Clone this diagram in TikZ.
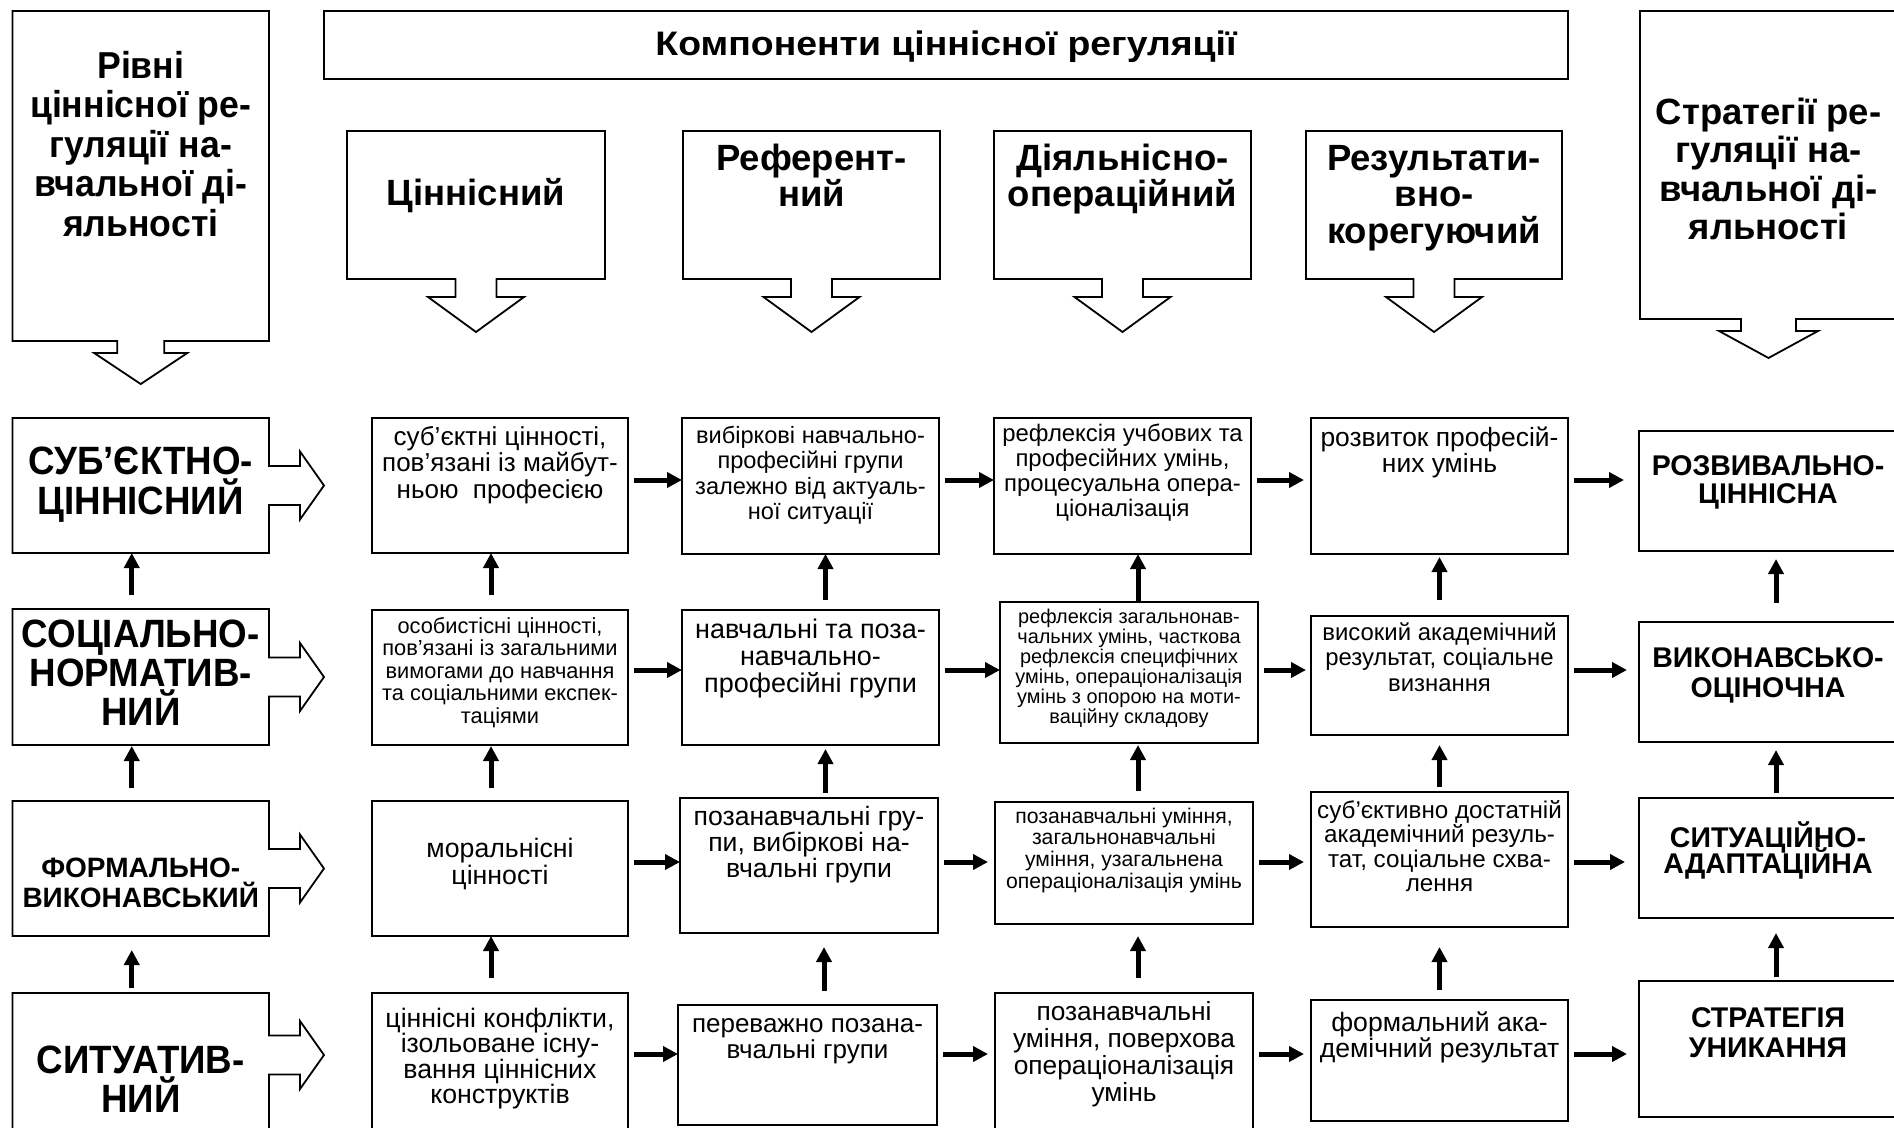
\documentclass[tikz,border=0pt]{standalone}
\usepackage{fontspec}
\setmainfont{Liberation Sans}
\newfontfamily\narrowf[FakeStretch=0.93]{Liberation Sans}
\newfontfamily\semif[FakeStretch=0.95]{Liberation Sans}
\newfontfamily\widef[FakeStretch=1.1]{Liberation Sans}
\usetikzlibrary{arrows.meta,calc}
\newcommand\fsz[2]{\fontsize{#1pt}{#2pt}\selectfont}
\newcommand\lline[1]{\makebox[0pt]{#1}\par}
\newcommand\btext[5]{\parbox[t][#2pt][t]{#1pt}{\lineskiplimit=-100pt\parskip=0pt\parindent=0pt\centering#3\rule{0pt}{#4pt}#5}}
\tikzset{
  boxst/.style={draw, line width=2pt, inner sep=0pt, outer sep=0pt},
  nbx/.style={inner sep=0pt, outer sep=0pt},
  outl/.style={line width=1.8pt, line join=miter},
  flow/.style={line width=5pt, -{Triangle[length=15pt,width=15pt]}},
}
% right-pointing block arrow attached to a box: node, centre offset from top
\newcommand\rarrow[2]{%
  \draw[outl] (#1.north west) -- (#1.north east) -- ($(#1.north east)+(0,#2-19.5)$) -- ++(31,0) -- ++(0,-14.5)
    -- ($(#1.north east)+(55,#2)$) -- ($(#1.north east)+(31,#2+34)$) -- ++(0,-14.5)
    -- ($(#1.north east)+(0,#2+19.5)$) -- (#1.south east) -- (#1.south west) -- cycle;}
% down-pointing block arrow: node, neck half, wing half, neck length, head length
\newcommand\darrow[5]{%
  \draw[outl] ($(#1.south)+(-#2,0)$) -- (#1.south west) -- (#1.north west) -- (#1.north east) -- (#1.south east)
    -- ($(#1.south)+(#2,0)$) -- ($(#1.south)+(#2,#4)$) -- ($(#1.south)+(#3,#4)$) -- ($(#1.south)+(0,#4+#5)$)
    -- ($(#1.south)+(-#3,#4)$) -- ($(#1.south)+(-#2,#4)$) -- cycle;}
% up arrow: lower, upper, dx from upper centre, start gap, end gap
\newcommand\uarr[5]{%
  \path ($(#2.south)+(#3,0)$) coordinate (ax);
  \draw[flow, shorten <=#4pt, shorten >=#5pt] (#1.north -| ax) -- (#2.south -| ax);}
% horizontal arrow: from, to, row coordinate, end gap
\newcommand\harr[4]{\draw[flow, shorten <=6pt, shorten >=#4pt] (#1.east |- #3) -- (#2.west |- #3);}

\begin{document}
\begin{tikzpicture}[x=1pt,y=-1pt]
\useasboundingbox (0,0) rectangle (1894,1127);
\fill[white] (0,0) rectangle (1894,1127);

% ---------- top headers ----------
\node[nbx, anchor=north west] (hl) at (12.5,11) {\btext{256.5}{330}{\semif\bfseries\fsz{37.5}{39.5}}{67}{\lline{Рівні}\lline{ціннісної ре-}\lline{гуляції на-}\lline{вчальної ді-}\lline{яльності}}};
\darrow{hl}{23.5}{46.5}{12}{31}

\node[boxst, anchor=north west] (tt) at (324,11) {\btext{1244}{68}{\widef\bfseries\fsz{34}{38}}{44}{\lline{Компоненти ціннісної регуляції}}};

\node[nbx, anchor=north west] (hs) at (1640,11) {\btext{257}{308}{\bfseries\fsz{36.5}{38.5}}{113}{\lline{Стратегії ре-}\lline{гуляції на-}\lline{вчальної ді-}\lline{яльності}}};
\darrow{hs}{27.5}{49.5}{12}{27}

\node[nbx, anchor=north west] (h1) at (347,131) {\btext{258}{148}{\bfseries\fsz{36.5}{36}}{74}{\lline{Ціннісний}}};
\node[nbx, anchor=north west] (h2) at (683,131) {\btext{257}{148}{\bfseries\fsz{36.5}{36}}{39}{\lline{Референт-}\lline{ний}}};
\node[nbx, anchor=north west] (h3) at (994,131) {\btext{257}{148}{\bfseries\fsz{36.5}{36}}{39}{\lline{Діяльнісно-}\lline{операційний}}};
\node[nbx, anchor=north west] (h4) at (1306,131) {\btext{256}{148}{\bfseries\fsz{36.5}{36.5}}{39}{\lline{Результати-}\lline{вно-}\lline{корегуючий}}};
\darrow{h1}{20.5}{48}{18}{35}
\darrow{h2}{20.5}{48}{18}{35}
\darrow{h3}{20.5}{48}{18}{35}
\darrow{h4}{20.5}{48}{18}{35}

% ---------- left column: levels ----------
\node[nbx, anchor=north west] (l1) at (12.5,418) {\btext{256.5}{135}{\narrowf\bfseries\fsz{39.5}{40}}{56}{\lline{СУБ’ЄКТНО-}\lline{ЦІННІСНИЙ}}};
\node[nbx, anchor=north west] (l2) at (12.5,609) {\btext{256.5}{136}{\narrowf\bfseries\fsz{39.5}{39}}{38.5}{\lline{СОЦІАЛЬНО-}\lline{НОРМАТИВ-}\lline{НИЙ}}};
\node[nbx, anchor=north west] (l3) at (12.5,801) {\btext{256.5}{135}{\bfseries\fsz{28}{30}}{76}{\lline{ФОРМАЛЬНО-}\lline{ВИКОНАВСЬКИЙ}}};
\node[nbx, anchor=north west] (l4) at (12.5,993) {\btext{256.5}{145}{\narrowf\bfseries\fsz{39.5}{39}}{80}{\lline{СИТУАТИВ-}\lline{НИЙ}}};
\rarrow{l1}{67.5}
\rarrow{l2}{68}
\rarrow{l3}{67.5}
\rarrow{l4}{62}

% ---------- column 1: value ----------
\node[boxst, anchor=north west] (c11) at (372,418) {\btext{256}{135}{\fsz{26}{26.5}}{27}{\lline{суб’єктні цінності,}\lline{пов’язані із майбут-}\lline{ньою \ професією}}};
\node[boxst, anchor=north west] (c21) at (372,610) {\btext{256}{135}{\fsz{21.8}{22.5}}{23}{\lline{особистісні цінності,}\lline{пов’язані із загальними}\lline{вимогами до навчання}\lline{та соціальними експек-}\lline{таціями}}};
\node[boxst, anchor=north west] (c31) at (372,801) {\btext{256}{135}{\fsz{26.7}{27}}{56}{\lline{моральнісні}\lline{цінності}}};
\node[boxst, anchor=north west] (c41) at (372,993) {\btext{256}{145}{\fsz{26.7}{25.5}}{34}{\lline{ціннісні конфлікти,}\lline{ізольоване існу-}\lline{вання ціннісних}\lline{конструктів}}};

% ---------- column 2: referent ----------
\node[boxst, anchor=north west] (c12) at (682,418) {\btext{257}{136}{\fsz{23.6}{25.5}}{25}{\lline{вибіркові навчально-}\lline{професійні групи}\lline{залежно від актуаль-}\lline{ної ситуації}}};
\node[boxst, anchor=north west] (c22) at (682,610) {\btext{257}{135}{\fsz{27}{27}}{28}{\lline{навчальні та поза-}\lline{навчально-}\lline{професійні групи}}};
\node[boxst, anchor=north west] (c32) at (680,798) {\btext{258}{135}{\fsz{26.6}{26}}{27}{\lline{позанавчальні гру-}\lline{пи, вибіркові на-}\lline{вчальні групи}}};
\node[boxst, anchor=north west] (c42) at (678,1005) {\btext{259}{120}{\fsz{26}{26}}{27}{\lline{переважно позана-}\lline{вчальні групи}}};

% ---------- column 3: activity ----------
\node[boxst, anchor=north west] (c13) at (994,418) {\btext{257}{136}{\fsz{23.9}{25}}{23}{\lline{рефлексія учбових та}\lline{професійних умінь,}\lline{процесуальна опера-}\lline{ціоналізація}}};
\node[boxst, anchor=north west] (c23) at (1000,602) {\btext{258}{141}{\fsz{19.9}{20}}{21}{\lline{рефлексія загальнонав-}\lline{чальних умінь, часткова}\lline{рефлексія специфічних}\lline{умінь, операціоналізація}\lline{умінь з опорою на моти-}\lline{ваційну складову}}};
\node[boxst, anchor=north west] (c33) at (995,802) {\btext{258}{122}{\fsz{21.2}{21.7}}{21}{\lline{позанавчальні уміння,}\lline{загальнонавчальні}\lline{уміння, узагальнена}\lline{операціоналізація умінь}}};
\node[boxst, anchor=north west] (c43) at (995,993) {\btext{258}{145}{\fsz{26.3}{27.3}}{27}{\lline{позанавчальні}\lline{уміння, поверхова}\lline{операціоналізація}\lline{умінь}}};

% ---------- column 4: result ----------
\node[boxst, anchor=north west] (c14) at (1311,418) {\btext{257}{136}{\fsz{26.4}{26}}{28}{\lline{розвиток професій-}\lline{них умінь}}};
\node[boxst, anchor=north west] (c24) at (1311,616) {\btext{257}{119}{\fsz{23.9}{25.5}}{24}{\lline{високий академічний}\lline{результат, соціальне}\lline{визнання}}};
\node[boxst, anchor=north west] (c34) at (1311,792) {\btext{257}{135}{\fsz{24.2}{24.5}}{26}{\lline{суб’єктивно достатній}\lline{академічний резуль-}\lline{тат, соціальне схва-}\lline{лення}}};
\node[boxst, anchor=north west] (c44) at (1311,1000) {\btext{257}{121}{\fsz{26.6}{26}}{31}{\lline{формальний ака-}\lline{демічний результат}}};

% ---------- right column: strategies ----------
\node[boxst, anchor=north west] (r1) at (1639,431) {\btext{258}{120}{\bfseries\fsz{28.5}{28}}{44}{\lline{РОЗВИВАЛЬНО-}\lline{ЦІННІСНА}}};
\node[boxst, anchor=north west] (r2) at (1639,622) {\btext{258}{120}{\bfseries\fsz{28.5}{30}}{45}{\lline{ВИКОНАВСЬКО-}\lline{ОЦІНОЧНА}}};
\node[boxst, anchor=north west] (r3) at (1639,798) {\btext{258}{120}{\bfseries\fsz{28.5}{26}}{49}{\lline{СИТУАЦІЙНО-}\lline{АДАПТАЦІЙНА}}};
\node[boxst, anchor=north west] (r4) at (1639,981) {\btext{258}{136}{\bfseries\fsz{28.5}{30}}{46}{\lline{СТРАТЕГІЯ}\lline{УНИКАННЯ}}};

% ---------- row levels for horizontal arrows ----------
\coordinate (y1) at (0,480);
\coordinate (y2) at (0,670);
\coordinate (y3) at (0,862);
\coordinate (y4) at (0,1054);

\harr{c11}{c12}{y1}{0} \harr{c12}{c13}{y1}{0} \harr{c13}{c14}{y1}{7} \harr{c14}{r1}{y1}{15}
\harr{c21}{c22}{y2}{0} \harr{c22}{c23}{y2}{0} \harr{c23}{c24}{y2}{5} \harr{c24}{r2}{y2}{12}
\harr{c31}{c32}{y3}{0} \harr{c32}{c33}{y3}{7} \harr{c33}{c34}{y3}{7} \harr{c34}{r3}{y3}{14}
\harr{c41}{c42}{y4}{0} \harr{c42}{c43}{y4}{7} \harr{c43}{c44}{y4}{7} \harr{c44}{r4}{y4}{12}

% ---------- upward arrows ----------
\uarr{l2}{l1}{-9}{14}{0}   \uarr{l3}{l2}{-9}{13}{1}   \uarr{l4}{l3}{-9}{5}{14}
\uarr{c21}{c11}{-9}{15}{0} \uarr{c31}{c21}{-9}{13}{1} \uarr{c41}{c31}{-9}{15}{0}
\uarr{c22}{c12}{15}{10}{0} \uarr{c32}{c22}{15}{5}{4}  \uarr{c42}{c32}{15}{14}{14}
\uarr{c23}{c13}{15.5}{0}{0} \uarr{c33}{c23}{9}{11}{2} \uarr{c43}{c33}{14}{15}{12}
\uarr{c24}{c14}{0}{16}{3}  \uarr{c34}{c24}{0}{5}{10}  \uarr{c44}{c34}{0}{10}{20}
\uarr{r2}{r1}{8}{19}{8}    \uarr{r3}{r2}{8}{5}{8}     \uarr{r4}{r3}{8}{4}{15}
\end{tikzpicture}
\end{document}
